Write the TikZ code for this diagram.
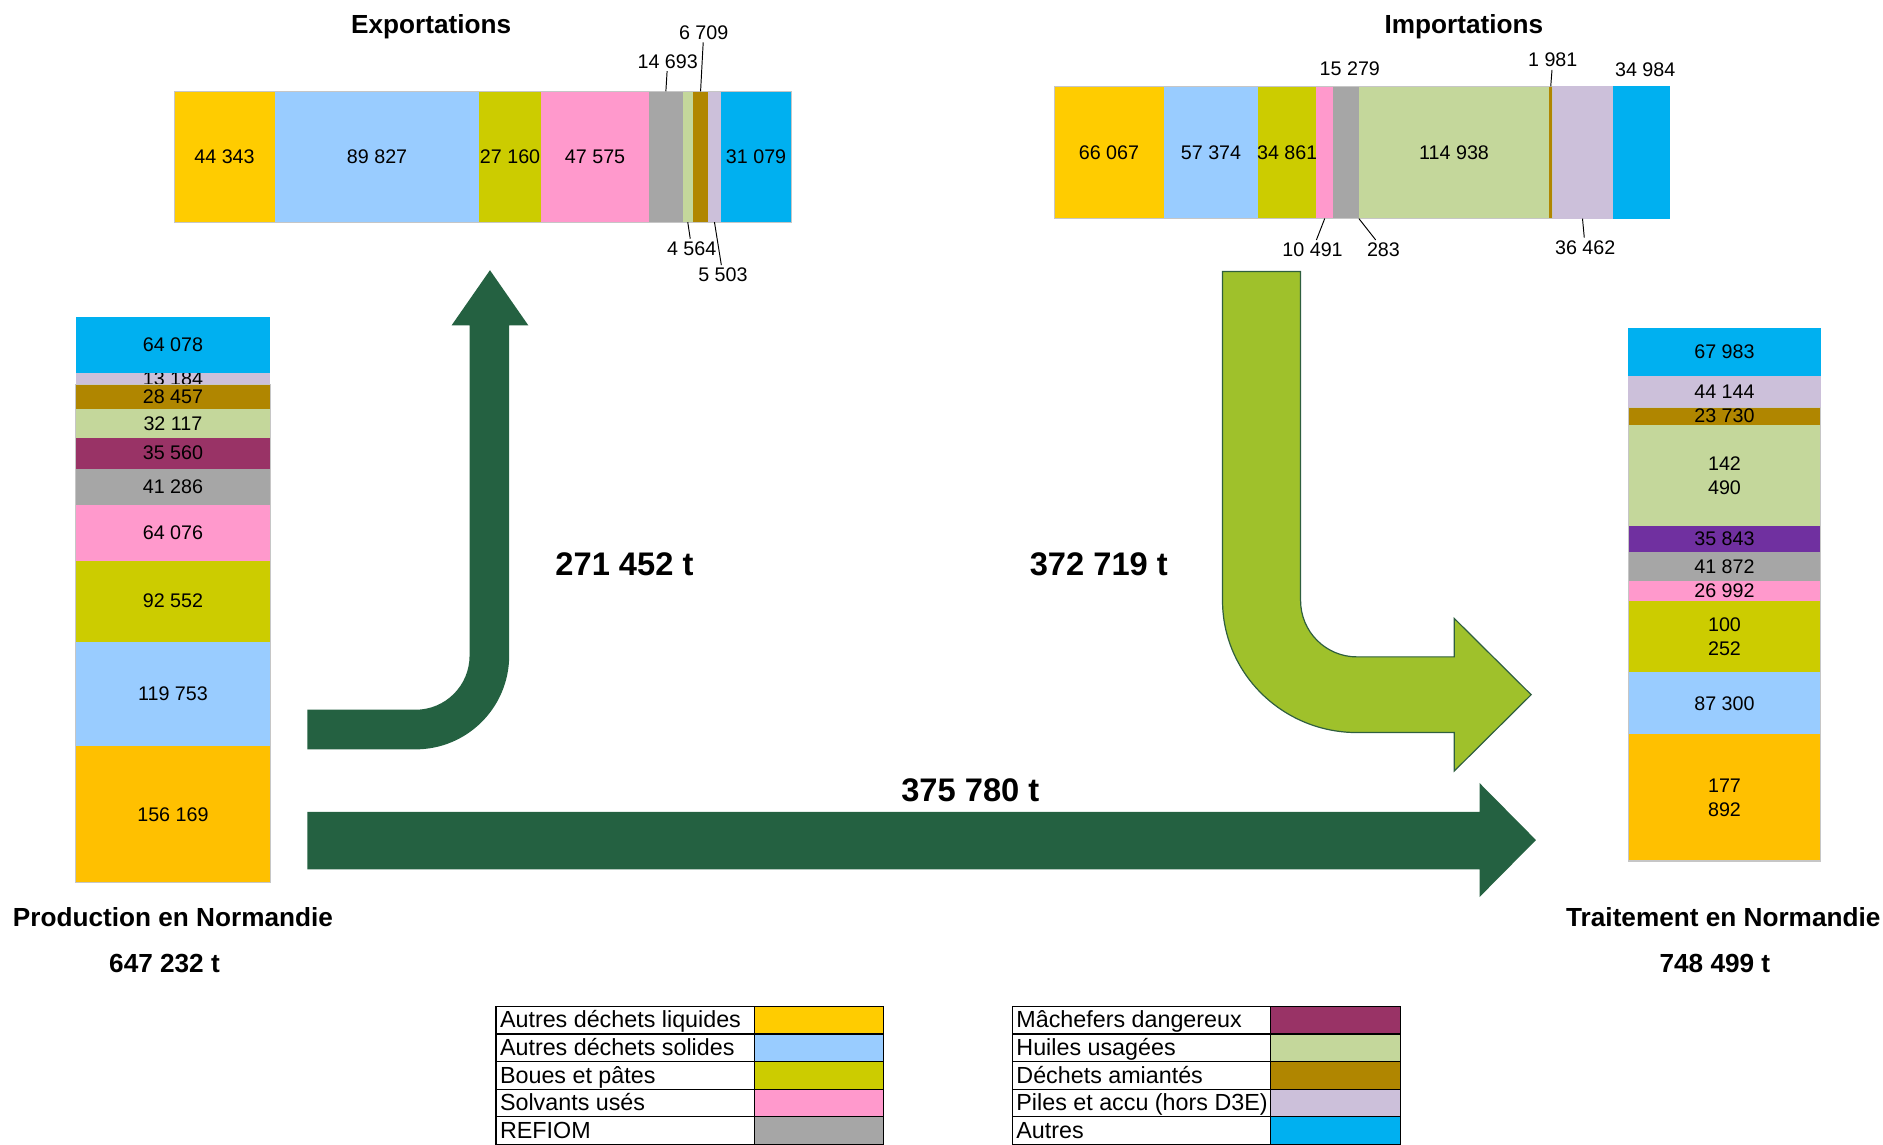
\documentclass[tikz,border=0pt]{standalone}
\usepackage{fontspec}
\setmainfont{Liberation Sans}
\usetikzlibrary{calc}

\definecolor{liq}{HTML}{FFCC00}
\definecolor{liqb}{HTML}{FFC000}
\definecolor{sol}{HTML}{99CCFF}
\definecolor{boue}{HTML}{CCCC00}
\definecolor{solv}{HTML}{FF99CC}
\definecolor{refiom}{HTML}{A6A6A6}
\definecolor{mach}{HTML}{993366}
\definecolor{huile}{HTML}{C4D79B}
\definecolor{amiante}{HTML}{B08600}
\definecolor{piles}{HTML}{CCC0DA}
\definecolor{autre}{HTML}{00B0F0}
\definecolor{pourpre}{HTML}{7030A0}
\definecolor{flowdark}{HTML}{246141}
\definecolor{flowlight}{HTML}{9FC12B}
\definecolor{flowedge}{HTML}{2F5F3F}

\begin{document}
\begin{tikzpicture}[x=0.5pt,y=-0.5pt,
  num/.style={font=\fontsize{8.2}{10}\selectfont,inner sep=1pt,align=center},
  head/.style={font=\bfseries\fontsize{10.9}{13}\selectfont},
  flow/.style={font=\bfseries\fontsize{13.6}{16}\selectfont},
  lead/.style={line width=0.4pt},
  edge/.style={draw=gray!45,line width=0.5pt},
  legcell/.style={draw=black,line width=0.5pt},
  legtext/.style={anchor=base west,font=\fontsize{9.7}{11}\selectfont,inner sep=1.5pt}]
  \useasboundingbox (0,0) rectangle (1568,953);
  \clip (0,0) rectangle (1568,953);

  % titres
  \node[head] (extitle) at (359,22) {Exportations};
  \node[head] (imtitle) at (1219,22) {Importations};

  % exportations
  \xdef\cum{145}
  \foreach \val/\col/\lab [count=\i] in {44.343/liq/44 343, 89.827/sol/89 827,
      27.160/boue/27 160, 47.575/solv/47 575, 14.693/refiom/, 4.564/huile/,
      6.709/amiante/, 5.503/piles/, 31.079/autre/31 079} {
    \pgfmathsetmacro\xa{\cum}
    \pgfmathsetmacro\xb{\cum+\val*1.89352}
    \fill[\col] (\xa,76) rectangle (\xb,185);
    \coordinate (ext\i) at ({(\xa+\xb)/2},76);
    \coordinate (exb\i) at ({(\xa+\xb)/2},185);
    \if\relax\detokenize\expandafter{\lab}\relax\else
      \node[num] (exn\i) at ({(\xa+\xb)/2},130.5) {\lab};\fi
    \xdef\cum{\xb}
  }
  \draw[edge] (145,76) rectangle (659,185);
  \node[num] (exn5) at (556,51) {14 693};
  \node[num] (exn7) at (586,27) {6 709};
  \node[num] (exn6) at (576,207) {4 564};
  \node[num] (exn8) at (602,229) {5 503};
  \draw[lead] (ext5) -- (exn5);
  \draw[lead] (ext7) -- (exn7);
  \draw[lead] (exb6) -- (exn6);
  \draw[lead] (exb8) -- (exn8);

  % importations
  \xdef\cum{878}
  \foreach \val/\col/\lab [count=\i] in {66.067/liq/66 067, 57.374/sol/57 374,
      34.861/boue/34 861, 10.491/solv/, 15.279/refiom/, 0.283/mach/,
      114.938/huile/114 938, 1.981/amiante/, 36.462/piles/, 34.984/autre/} {
    \pgfmathsetmacro\xa{\cum}
    \pgfmathsetmacro\xb{\cum+\val*1.37637}
    \fill[\col] (\xa,72) rectangle (\xb,182);
    \coordinate (imt\i) at ({(\xa+\xb)/2},72);
    \coordinate (imb\i) at ({(\xa+\xb)/2},182);
    \if\relax\detokenize\expandafter{\lab}\relax\else
      \node[num] (imn\i) at ({(\xa+\xb)/2},127) {\lab};\fi
    \xdef\cum{\xb}
  }
  \draw[edge] (878,72) rectangle (1293,182);
  \node[num] (imn4) at (1093,208) {10 491};
  \node[num] (imn5) at (1124,57) {15 279};
  \node[num] (imn6) at (1152,208) {283};
  \node[num] (imn8) at (1293,50) {1 981};
  \node[num] (imn9) at (1320,206) {36 462};
  \node[num] (imn10) at (1370,58) {34 984};
  \draw[lead] (imb4) -- (imn4);
  \draw[lead] (imb6) -- (imn6);
  \draw[lead] (imt8) -- (imn8);
  \draw[lead] (imb9) -- (imn9);

  % production
  \xdef\cum{735}
  \foreach \val/\col/\lab [count=\i] in {156.169/liqb/156 169, 119.753/sol/119 753,
      92.552/boue/92 552, 64.076/solv/64 076, 41.286/refiom/41 286,
      35.560/mach/35 560, 32.117/huile/32 117, 28.457/amiante/28 457,
      13.184/piles/13 184, 64.078/autre/64 078} {
    \pgfmathsetmacro\ya{\cum}
    \pgfmathsetmacro\yb{\cum-\val*0.727714}
    \fill[\col] (63,\ya) rectangle (225,\yb);
    \node[num] (prn\i) at (144,{(\ya+\yb)/2}) {\lab};
    \xdef\cum{\yb}
  }
  \draw[edge] (63,320) rectangle (225,735);

  % traitement
  \xdef\cum{717}
  \foreach \val/\col/\lab [count=\i] in {177.892/liqb/{177\\892}, 87.300/sol/87 300,
      100.252/boue/{100\\252}, 26.992/solv/26 992, 41.872/refiom/41 872,
      35.843/pourpre/35 843, 142.490/huile/{142\\490}, 23.730/amiante/23 730,
      44.144/piles/44 144, 67.983/autre/67 983} {
    \pgfmathsetmacro\ya{\cum}
    \pgfmathsetmacro\yb{\cum-\val*0.593188}
    \fill[\col] (1356,\ya) rectangle (1516,\yb);
    \node[num] (trn\i) at (1436,{(\ya+\yb)/2}) {\lab};
    \xdef\cum{\yb}
  }
  \draw[edge] (1356,339) rectangle (1516,717);

  % fleches
  \fill[flowdark] (256,591) -- (346,591) .. controls (370.9,591) and (391,570.9) .. (391,546)
    -- (391,271) -- (376,271) -- (408,225) -- (440,271) -- (424,271) -- (424,546)
    .. controls (424,589.1) and (389.1,624) .. (346,624) -- (256,624) -- cycle;
  \filldraw[fill=flowlight,draw=flowedge,line width=0.5pt] (1018,226) -- (1083,226) -- (1083,500)
    .. controls (1083,526) and (1104,547) .. (1130,547) -- (1211,547) -- (1211,515)
    -- (1275,578.5) -- (1211,642) -- (1211,610) -- (1130,610)
    .. controls (1068.1,610) and (1018,560.8) .. (1018,500) -- cycle;
  \fill[flowdark] (256,676) -- (1232,676) -- (1232,652) -- (1279,699.5) -- (1232,747)
    -- (1232,724) -- (256,724) -- cycle;
  \node[flow] (exflow) at (520,470) {271 452 t};
  \node[flow] (imflow) at (915,470) {372 719 t};
  \node[flow] (inflow) at (808,658) {375 780 t};

  % totaux
  \node[head] (prod) at (144,764) {Production en Normandie};
  \node[head] (prodt) at (137,802) {647 232 t};
  \node[head] (trait) at (1435,764) {Traitement en Normandie};
  \node[head] (traitt) at (1428,802) {748 499 t};

  % legende
  \foreach \lab/\col [count=\i] in {Autres déchets liquides/liq, Autres déchets solides/sol,
      Boues et pâtes/boue, Solvants usés/solv, REFIOM/refiom} {
    \draw[legcell] (413,815+23*\i) rectangle (628,838+23*\i);
    \filldraw[legcell,fill=\col] (628,815+23*\i) rectangle (736,838+23*\i);
    \node[legtext] (lgl\i) at (413,833+23*\i) {\lab};
  }
  \foreach \lab/\col [count=\i] in {Mâchefers dangereux/mach, Huiles usagées/huile,
      Déchets amiantés/amiante, Piles et accu (hors D3E)/piles, Autres/autre} {
    \draw[legcell] (843,815+23*\i) rectangle (1058,838+23*\i);
    \filldraw[legcell,fill=\col] (1058,815+23*\i) rectangle (1166,838+23*\i);
    \node[legtext] (lgr\i) at (843,833+23*\i) {\lab};
  }
\end{tikzpicture}
\end{document}
